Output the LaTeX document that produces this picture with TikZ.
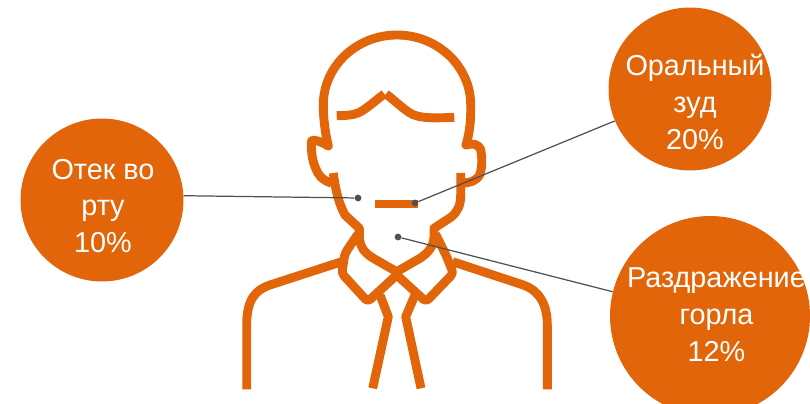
\documentclass[tikz,border=0pt]{standalone}
\usepackage{fontspec}
\setmainfont{Liberation Sans}
\usepackage{xcolor}
\definecolor{burnt}{HTML}{E2650A}
\definecolor{leadgray}{HTML}{505050}
\tikzset{
  every picture/.style={x=0.02cm,y=-0.02cm,line join=round},
  figline/.style={draw=burnt,line width=0.178cm},
  leader/.style={draw=leadgray,line width=0.7pt},
  dotmark/.style={circle,fill=leadgray,inner sep=0pt,minimum size=0.135cm},
  bubble/.style={circle,fill=burnt,inner sep=0pt},
  bubbletext/.style={text=white,font=\fontsize{16.4}{21}\selectfont,align=center,inner sep=0pt},
}
\begin{document}
\begin{tikzpicture}
\useasboundingbox (0,0) rectangle (810,404);
\node[bubble,minimum size=3.26cm] (bubbleSwell) at (102,200) {};
\node[bubble,minimum size=3.26cm] (bubbleItch) at (690,89) {};
\node[bubble,minimum size=4cm] (bubbleThroat) at (710,316) {};
\node[bubbletext] (textSwell) at (103,206) {Отек во\\рту\\10\%};
\node[bubbletext] (textItch) at (695,102) {Оральный\\зуд\\20\%};
\node[bubbletext] (textThroat) at (716.5,315) {Раздражение\\горла\\12\%};
\draw[figline] (331.7,183.3) .. controls (322,180) and (318,175) .. (315.5,168) .. controls (312,160) and (311,150) .. (311.5,141) .. controls (313,139) and (320,141) .. (328.3,146) .. controls (325,132) and (323.3,118) .. (323.3,105) arc[start angle=180,end angle=360,x radius=73.7,y radius=70] .. controls (471,118) and (470,132) .. (466,145) .. controls (472,143) and (478,144) .. (480.5,149) .. controls (482,156) and (482.5,166) .. (480,174) .. controls (477,181) and (470,183) .. (461,183);
\draw[figline] (333.3,173) .. controls (335,185) and (337,200) .. (345,215) -- (359.3,228.3) -- (359.3,236.7) .. controls (360,248) and (365,253) .. (373.3,258.3) -- (396.7,271.7) -- (420,258.3) .. controls (428,253) and (434,246) .. (434,236.7) -- (434,228.3) -- (451.7,216.7) .. controls (458,211) and (460.7,205) .. (460.7,195) -- (460.7,173);
\draw[figline] (336.7,115.7) .. controls (345,115.5) and (352,115.5) .. (358,113) .. controls (365,110) and (375,101) .. (384.3,94);
\draw[figline] (386,94) .. controls (394,100) and (402,108) .. (410,113) .. controls (418,118) and (430,118.5) .. (454.3,117.3);
\draw[figline] (375.3,204) -- (417.7,204);
\draw[figline,rounded corners=2pt] (358,234) -- (345,253.3) -- (341.7,273.3) -- (367.7,301.7) -- (396.7,275) -- (426,301.7) -- (453.3,273.3) -- (446.7,256.7) -- (435.5,234);
\draw[figline] (341.7,261.7) -- (270,285) .. controls (255,290) and (246.7,300) .. (246.7,325) -- (246.7,389.3);
\draw[figline] (452.7,261.7) -- (523.3,285) .. controls (538,290) and (547.3,303) .. (547.3,325) -- (547.3,389.3);
\draw[figline] (380,295) -- (388.3,316.7) -- (372.7,388.3);
\draw[figline] (415,295) -- (405.7,316.7) -- (421,388.3);
\node[dotmark] (dotSwell) at (358,198) {};
\node[dotmark] (dotItch) at (415,203) {};
\node[dotmark] (dotThroat) at (398,237) {};
\draw[leader] (dotSwell) -- (bubbleSwell.3.3);
\draw[leader] (dotItch) -- (bubbleItch.203);
\draw[leader] (dotThroat) -- (bubbleThroat.166.7);
\end{tikzpicture}
\end{document}
